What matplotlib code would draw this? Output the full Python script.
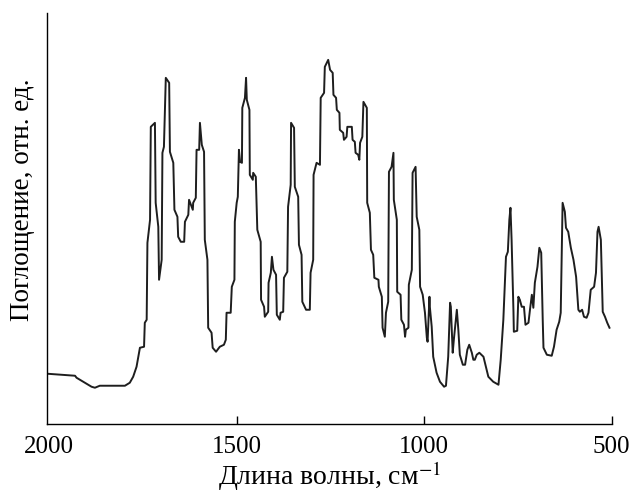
import matplotlib
matplotlib.use("Agg")
import matplotlib.pyplot as plt

# IR spectrum
wavenumber = [
    2005, 1931, 1927, 1909, 1887, 1878, 1865, 1798, 1785, 1776, 1767, 1758,
    1747, 1745, 1740, 1738, 1731, 1729, 1718, 1716, 1709, 1707, 1700, 1698,
    1694, 1689, 1680, 1678, 1669, 1666, 1658, 1656, 1649, 1640, 1638, 1629,
    1627, 1617, 1616, 1609, 1607, 1600, 1598,
    1593, 1587, 1585, 1578, 1576, 1567, 1564, 1555, 1545, 1534, 1529, 1527,
    1516, 1513, 1506, 1505, 1500, 1497, 1494, 1491, 1486, 1485, 1478, 1475,
    1473, 1466, 1465, 1457, 1456, 1449, 1445, 1436, 1435, 1427, 1425, 1416,
    1415, 1409, 1406, 1402, 1395, 1393, 1385, 1383, 1376, 1374, 1365, 1363,
    1356, 1355, 1347, 1345, 1336, 1334, 1327, 1325, 1315, 1305, 1303, 1296,
    1295, 1287, 1278, 1276, 1267, 1265, 1256, 1251, 1244, 1242, 1235, 1233,
    1226, 1225, 1216, 1214, 1207, 1205, 1193, 1191, 1185, 1183, 1176, 1173,
    1171, 1165, 1162, 1153, 1152, 1145, 1142, 1136, 1133, 1122, 1121, 1113,
    1111, 1105, 1102, 1096, 1094, 1087, 1082, 1081, 1073, 1072, 1063, 1061,
    1054, 1051, 1049, 1042, 1041, 1033, 1031, 1023, 1020, 1013, 1011, 1004,
    998, 993, 991, 986, 985, 980, 976, 967, 958, 947, 942, 936, 931, 929,
    924, 921, 913, 909, 905, 897, 891, 885, 880, 873, 869, 865, 860, 853,
    842, 835, 829, 816, 802, 796, 789, 782, 777, 773, 770, 767, 762, 761,
    752, 749, 745, 740, 734, 730, 722, 718, 713, 709, 705, 698, 693, 688,
    684, 682, 673, 660, 654, 647, 640, 636, 633, 631, 625, 622, 616, 609,
    602, 595, 589, 585, 579, 574, 567, 562, 556, 547, 542, 538, 535, 529,
    524, 518, 512, 506,
]
absorbance = [
    50, 48, 46, 42, 37, 36, 38, 38, 41, 47, 57, 76,
    77, 101, 104, 181, 204, 297, 301, 221, 197, 144, 164, 271,
    277, 346, 341, 272, 261, 214, 207, 187, 182, 182, 202, 209,
    224, 214, 221, 226, 274, 274, 301,
    279, 272, 184, 164, 96, 91, 76, 72, 77, 79, 84, 111,
    111, 137, 144, 202, 221, 227, 274, 262, 261, 316, 326, 346,
    324, 314, 249, 244, 251, 247, 194, 182, 124, 117, 107, 112,
    141, 151, 167, 154, 149, 109, 104, 111, 112, 146, 152, 217,
    239, 301, 296, 237, 227, 179, 169, 122, 114, 114, 151, 164,
    249, 261, 259, 326, 331, 357, 364, 354, 351, 329, 326, 314,
    311, 294, 291, 284, 287, 297, 297, 284, 282, 271, 269, 264,
    281, 287, 322, 316, 221, 211, 174, 169, 146, 144, 137, 127,
    96, 87, 111, 122, 252, 257, 271, 224, 204, 132, 129, 104,
    99, 87, 94, 96, 139, 154, 251, 257, 207, 194, 137, 129,
    111, 86, 82, 127, 117, 97, 67, 51, 42, 37, 38, 67, 121, 117,
    71, 84, 114, 94, 69, 59, 59, 74, 79, 71, 64, 64, 69, 71,
    67, 56, 47, 42, 39, 64, 104, 167, 172, 204, 216, 184, 112, 92,
    93, 127, 124, 117, 117, 99, 101, 114, 129, 116, 141, 157, 176, 171,
    104, 76, 69, 68, 77, 94, 102, 111, 177, 221, 212, 196, 192, 176,
    164, 147, 114, 112, 114, 107, 106, 111, 134, 137, 151, 192, 197, 184,
    112, 107, 101, 96,
]
x_ticks = [2000, 1500, 1000, 500]

plt.rcParams["font.family"] = ["Liberation Serif", "DejaVu Serif"]
plt.rcParams["mathtext.fontset"] = "stix"

fig = plt.figure(figsize=(6.33, 4.95), dpi=100)
ax = fig.add_axes([0.0747, 0.144, 0.8917, 0.830])

ax.plot(wavenumber, absorbance, color="#1e1e1e", linewidth=1.4)

ax.set_xlim(2005, 500)
ax.set_ylim(0, 411)
ax.set_xticks(x_ticks)
ax.tick_params(axis="x", direction="in", length=6, width=1,
               labelsize=18, pad=9)
# the 2000 mark sits on the spine, so only its label shows
ax.xaxis.get_major_ticks()[0].tick1line.set_visible(False)
ax.tick_params(axis="y", left=False, labelleft=False)
for side in ("top", "right"):
    ax.spines[side].set_visible(False)
for side in ("left", "bottom"):
    ax.spines[side].set_linewidth(1)

# axis titles placed by hand to match the reference
fig.text(0.521, 0.02, "Длина волны, см$^{-1}$", fontsize=20,
         ha="center", va="baseline")
fig.text(0.035, 0.596, "Поглощение, отн. ед.", fontsize=19.5,
         rotation=90, ha="center", va="center")

fig.savefig("out.png", dpi=100)
